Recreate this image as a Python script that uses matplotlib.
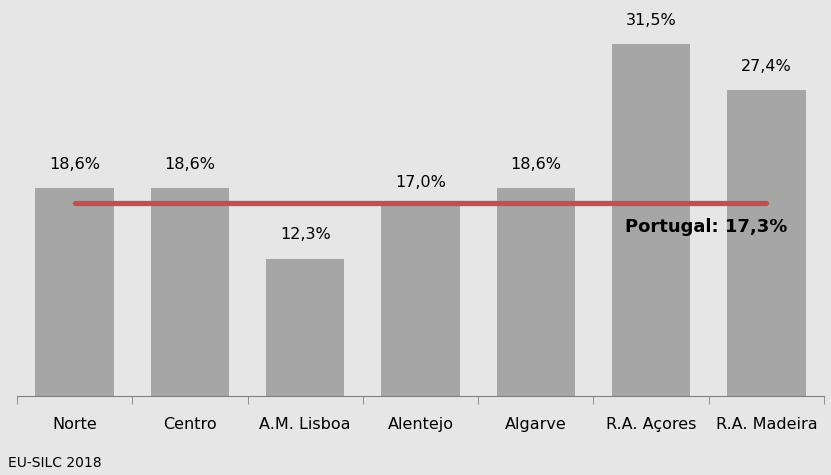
import matplotlib.pyplot as plt
import numpy as np

regioes = ['Norte', 'Centro', 'A.M. Lisboa', 'Alentejo', 'Algarve', 'R.A. Açores', 'R.A. Madeira']
valores = [18.6, 18.6, 12.3, 17.0, 18.6, 31.5, 27.4]
portugal = 17.3

bg = '#e6e6e6'
fig = plt.figure(figsize=(8.31, 4.75), dpi=100, facecolor=bg)
ax = fig.add_axes([17 / 831, 79 / 475, 807 / 831, 391 / 475])
ax.set_facecolor(bg)

x = np.arange(len(regioes))
ax.bar(x, valores, width=0.68, color='#a6a6a6')
ax.plot([x[0], x[-1]], [portugal, portugal], color='#c0504d', lw=3.8, solid_capstyle='round')

for xi, v in zip(x, valores):
    ax.text(xi, v + 1.45, f'{v:.1f}%'.replace('.', ','), ha='center', va='bottom', fontsize=11.5)

ax.text(5.48, portugal - 2.2, f'Portugal: {portugal:.1f}%'.replace('.', ','),
        ha='center', va='center', fontsize=13, fontweight='bold')

ax.set_xlim(-0.5, len(regioes) - 0.5)
ax.set_ylim(0, 35)
ax.set_xticks(x)
ax.set_xticklabels(regioes, fontsize=11.5)
ax.set_xticks(np.arange(-0.5, len(regioes)), minor=True)
ax.tick_params(axis='x', which='major', length=0, pad=15)
ax.tick_params(axis='x', which='minor', length=6, color='#808080', direction='out')
ax.set_yticks([])
for s in ['top', 'right', 'left']:
    ax.spines[s].set_visible(False)
ax.spines['bottom'].set_color('#808080')

fig.text(8 / 831, 1 - 463 / 475, 'EU-SILC 2018', fontsize=10, va='center', ha='left')

fig.savefig('out.png', dpi=100, facecolor=bg)
